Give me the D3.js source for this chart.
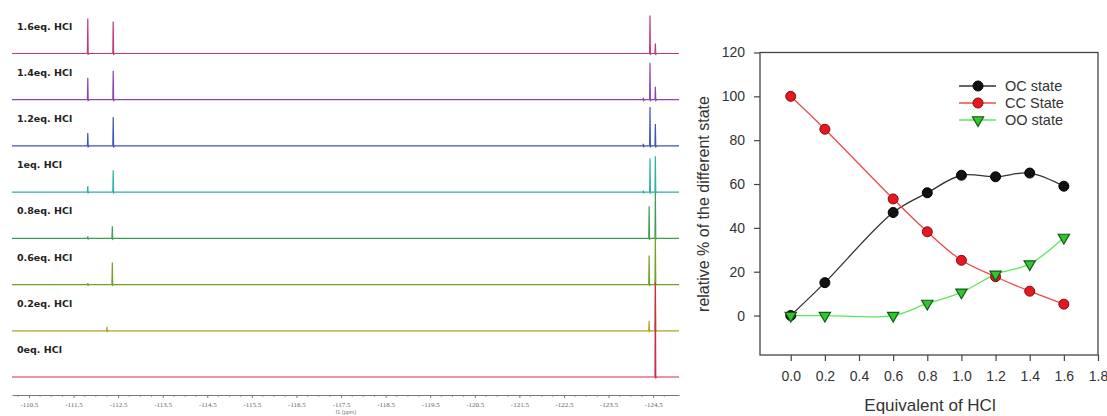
<!DOCTYPE html>
<html><head><meta charset="utf-8">
<script src="https://cdn.jsdelivr.net/npm/d3@7"></script>
<style>
html,body{margin:0;padding:0;background:#fff;}
svg{display:block;}
</style></head>
<body>
<svg id="c" width="1107" height="416"></svg>
<script>
// ---------- Left panel: stacked 19F NMR spectra ----------
const specLabels = ["1.6eq. HCl","1.4eq. HCl","1.2eq. HCl","1eq. HCl","0.8eq. HCl","0.6eq. HCl","0.2eq. HCl","0eq. HCl"];
const specColors = ["#c2387e","#8a44b4","#3f55b5","#2fb0a6","#3f9e55","#6fa226","#aea12c","#cc2c4a"];
// peaks: [ppm, intensity]
const peaks16 = [[-111.82,35],[-112.39,32],[-124.43,38],[-124.55,10]];
const peaks14 = [[-111.82,22],[-112.39,29],[-124.28,2],[-124.43,37],[-124.55,13]];
const peaks12 = [[-111.82,13],[-112.39,29],[-124.28,2],[-124.43,39],[-124.55,22]];
const peaks10 = [[-111.82,6],[-112.39,22],[-124.28,1.5],[-124.43,34],[-124.55,36]];
const peaks08 = [[-111.82,2],[-112.37,12],[-124.41,32],[-124.55,46]];
const peaks06 = [[-111.82,1.5],[-112.37,22],[-124.41,29],[-124.55,50]];
const peaks02 = [[-112.25,4],[-124.41,10],[-124.55,50]];
const peaks00 = [[-124.55,95]];
const specPeaks = [peaks16,peaks14,peaks12,peaks10,peaks08,peaks06,peaks02,peaks00];
const ppmTicks = [-110.5,-111.5,-112.5,-113.5,-114.5,-115.5,-116.5,-117.5,-118.5,-119.5,-120.5,-121.5,-122.5,-123.5,-124.5];

// ---------- Right panel: relative % of states ----------
const eqHCl = [0.0,0.2,0.6,0.8,1.0,1.2,1.4,1.6];
const ocState = [0,15,47,56,64,63.3,65,59];
const ccState = [100,85,53.2,38.2,25.2,17.7,11.1,5.2];
const ooState = [0,0,0,5.5,10.6,18.8,23.5,35.6];
const seriesNames = ["OC state","CC State","OO state"];
const xTicks = [0.0,0.2,0.4,0.6,0.8,1.0,1.2,1.4,1.6,1.8];
const yTicks = [0,20,40,60,80,100,120];

const svg = d3.select("#c");

// ===== Left panel =====
const xs = d3.scaleLinear().domain([-110.12,-125.08]).range([12,679]);
const rowY = d3.scalePoint().domain(specLabels).range([53.5,377]);
const inten = d3.scaleLinear().domain([0,100]).range([0,100]);
const specLine = d3.line().x(d=>d[0]).y(d=>d[1]);

specLabels.forEach((lab,i)=>{
  const base = rowY(lab);
  const pk = specPeaks[i].slice().sort((a,b)=>b[0]-a[0]);
  const pts = [[xs.range()[0],base]];
  pk.forEach(p=>{
    const px = xs(p[0]);
    pts.push([px-0.4,base],[px,base-inten(p[1])],[px+0.4,base+0.8],[px+1.4,base]);
  });
  pts.push([xs.range()[1],base]);
  svg.append("path").attr("d",specLine(pts)).attr("fill","none")
    .attr("stroke",specColors[i]).attr("stroke-width",1.2);
  svg.append("text").attr("x",17).attr("y",base-24)
    .attr("font-family","DejaVu Sans, sans-serif").attr("font-weight","bold")
    .attr("font-size",9.5).attr("fill","#222").text(lab);
});

const ppmAxis = svg.append("g").attr("transform","translate(0,395)")
  .call(d3.axisBottom(xs).tickValues(ppmTicks).tickFormat(d=>d.toFixed(1)).tickSize(3).tickSizeOuter(0));
ppmAxis.select(".domain").attr("stroke","#777");
ppmAxis.selectAll(".tick line").attr("stroke","#777");
ppmAxis.selectAll("text").attr("font-size",7).attr("fill","#666")
  .attr("font-family","Liberation Serif, serif").attr("dy","0.9em");
const minor = d3.range(-110.25,-125.0,-0.25).filter(v=>Math.abs((v*2)%2)!==1);
svg.append("g").selectAll("line").data(minor).join("line")
  .attr("x1",d=>xs(d)).attr("x2",d=>xs(d)).attr("y1",395).attr("y2",397)
  .attr("stroke","#888").attr("stroke-width",0.8);
svg.append("text").attr("x",346).attr("y",414).attr("font-size",5.5).attr("fill","#777")
  .attr("text-anchor","middle").attr("font-family","Liberation Sans, sans-serif").text("f1 (ppm)");

// ===== Right panel =====
const x = d3.scaleLinear().domain([-0.18,1.8]).range([760,1098]);
const y = d3.scaleLinear().domain([-18,120]).range([355,52.5]);
const F = "Liberation Sans, Arial, sans-serif";

svg.append("rect").attr("x",x(-0.18)).attr("y",y(120))
  .attr("width",x(1.8)-x(-0.18)).attr("height",y(-18)-y(120))
  .attr("fill","none").attr("stroke","#444").attr("stroke-width",1.3);

const ga = svg.append("g").attr("transform",`translate(${x(-0.18)},0)`)
  .call(d3.axisLeft(y).tickValues(yTicks).tickSize(6).tickPadding(9).tickSizeOuter(0));
const gb = svg.append("g").attr("transform",`translate(0,${y(-18)})`)
  .call(d3.axisBottom(x).tickValues(xTicks).tickFormat(d=>d.toFixed(1)).tickSize(6).tickPadding(10).tickSizeOuter(0));
[ga,gb].forEach(g=>{
  g.select(".domain").remove();
  g.selectAll(".tick line").attr("stroke","#444").attr("stroke-width",1.2);
  g.selectAll("text").attr("font-family",F).attr("font-size",14).attr("fill","#333");
});

svg.append("text").attr("x",930).attr("y",411).attr("text-anchor","middle")
  .attr("font-family",F).attr("font-size",17).attr("fill","#333").text("Equivalent of HCl");
svg.append("text").attr("transform","translate(709,204) rotate(-90)").attr("text-anchor","middle")
  .attr("font-family",F).attr("font-size",16).attr("fill","#333").text("relative % of the different state");

const lineColors = ["#333333","#f04848","#5ee65e"];
const vals = [ocState,ccState,ooState];
const curve = d3.line().x(d=>x(d[0])).y(d=>y(d[1])).curve(d3.curveCatmullRom.alpha(0.5));
vals.forEach((v,i)=>{
  svg.append("path").attr("d",curve(eqHCl.map((e,j)=>[e,v[j]])))
    .attr("fill","none").attr("stroke",lineColors[i]).attr("stroke-width",1.3);
});
const tri = d3.symbol().type(d3.symbolTriangle).size(55)();
function marker(g,i,cx,cy){
  if(i===0) g.append("circle").attr("cx",cx).attr("cy",cy).attr("r",5).attr("fill","#111").attr("stroke","#000");
  else if(i===1) g.append("circle").attr("cx",cx).attr("cy",cy).attr("r",5).attr("fill","#e8161e").attr("stroke","#7a1010").attr("stroke-width",1);
  else g.append("path").attr("d",tri).attr("transform",`translate(${cx},${cy}) rotate(180)`)
    .attr("fill","#2ec82e").attr("stroke","#145a14").attr("stroke-width",1.2);
}
const gm = svg.append("g");
vals.forEach((v,i)=>{ eqHCl.forEach((e,j)=>marker(gm,i,x(e),y(v[j]))); });

// legend
const legY = [86,103,120];
seriesNames.forEach((n,i)=>{
  svg.append("line").attr("x1",959).attr("x2",996).attr("y1",legY[i]).attr("y2",legY[i])
    .attr("stroke",lineColors[i]).attr("stroke-width",1.3);
  marker(svg,i,978,legY[i]);
  svg.append("text").attr("x",1005).attr("y",legY[i]+5).attr("font-family",F)
    .attr("font-size",14.5).attr("fill","#333").text(n);
});
</script>
</body></html>
